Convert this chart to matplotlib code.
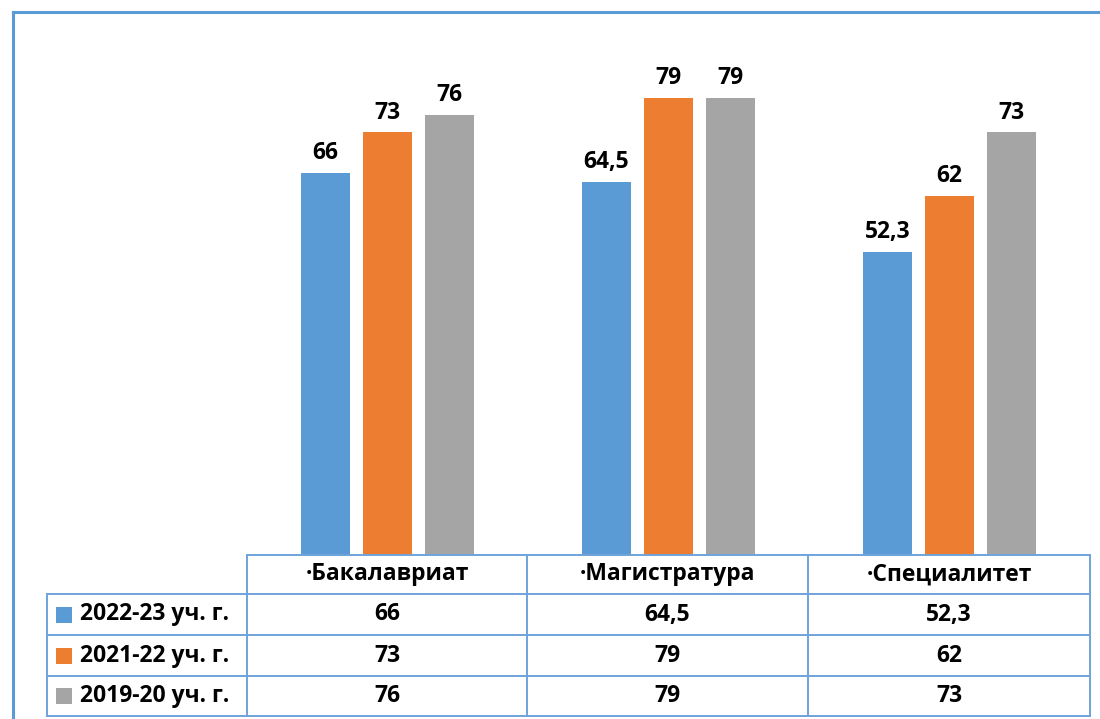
import matplotlib
matplotlib.use("Agg")
import matplotlib.pyplot as plt
from matplotlib.lines import Line2D
from matplotlib.patches import Rectangle
import numpy as np

categories = ["·Бакалавриат", "·Магистратура", "·Специалитет"]
series_names = ["2022-23 уч. г.", "2021-22 уч. г.", "2019-20 уч. г."]
vals_2022 = [66, 64.5, 52.3]
vals_2021 = [73, 79, 62]
vals_2019 = [76, 79, 73]
colors = ["#5B9BD5", "#ED7D31", "#A5A5A5"]

plt.rcParams["font.family"] = ["Open Sans", "DejaVu Sans"]

W, H = 1100, 719
fig = plt.figure(figsize=(W / 100, H / 100), dpi=100)


def fx(px):
    return px / W


def fy(py):
    return 1 - py / H


# plot area sits right on top of the data table
ax = fig.add_axes([fx(247), fy(555), fx(1090) - fx(247), fy(12) - fy(555)])
x = np.arange(len(categories))
width = 0.174
step = 0.221

def fmt(v):
    return ("%g" % v).replace(".", ",")

all_series = [vals_2022, vals_2021, vals_2019]
for i, (vals, c) in enumerate(zip(all_series, colors)):
    pos = x + (i - 1) * step
    ax.bar(pos, vals, width=width, color=c)
    for p, v in zip(pos, vals):
        ax.annotate(fmt(v), (p, v), xytext=(0, 10), textcoords="offset points",
                    ha="center", va="baseline", fontsize=16.5, fontweight="bold")

ax.set_xlim(-0.5, 2.5)
ax.set_ylim(0, 93.8)
ax.axis("off")

# outer chart frame (only top and left visible in the crop)
border = "#5B9BD5"
fig.add_artist(Line2D([fx(13), fx(13)], [fy(12), 0], color=border, lw=2.2))
fig.add_artist(Line2D([fx(13), 1], [fy(12), fy(12)], color=border, lw=2.2))

# data table
tc = "#6FA3DA"
lw = 1.4
fs = 16.5
col_x = [247, 527, 808, 1090]
row_y = [555, 594, 635, 676, 716]
left = 47

# horizontal lines
fig.add_artist(Line2D([fx(col_x[0]), fx(col_x[-1])], [fy(row_y[0])] * 2, color=tc, lw=lw))
for yy in row_y[1:]:
    fig.add_artist(Line2D([fx(left), fx(col_x[-1])], [fy(yy)] * 2, color=tc, lw=lw))
# vertical lines
fig.add_artist(Line2D([fx(left)] * 2, [fy(row_y[1]), fy(row_y[-1])], color=tc, lw=lw))
for xx in col_x:
    fig.add_artist(Line2D([fx(xx)] * 2, [fy(row_y[0]), fy(row_y[-1])], color=tc, lw=lw))

# header
for j, cat in enumerate(categories):
    cx = (col_x[j] + col_x[j + 1]) / 2
    cy = (row_y[0] + row_y[1]) / 2
    fig.text(fx(cx), fy(cy), cat, ha="center", va="center", fontsize=fs, fontweight="bold")

# rows
for i, (name, vals, c) in enumerate(zip(series_names, all_series, colors)):
    cy = (row_y[i + 1] + row_y[i + 2]) / 2
    fig.add_artist(Rectangle((fx(56), fy(cy + 8)), fx(16), fy(0) - fy(16),
                             facecolor=c, edgecolor="none"))
    fig.text(fx(80), fy(cy), name, ha="left", va="center", fontsize=fs, fontweight="bold")
    for j, v in enumerate(vals):
        cx = (col_x[j] + col_x[j + 1]) / 2
        fig.text(fx(cx), fy(cy), fmt(v), ha="center", va="center", fontsize=fs, fontweight="bold")

fig.savefig("out.png", dpi=100)
